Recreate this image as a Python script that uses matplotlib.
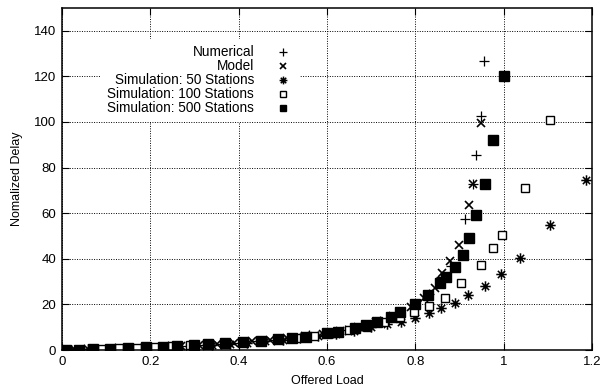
import matplotlib.pyplot as plt
from matplotlib.path import Path

plt.rcParams['font.family'] = ['Liberation Sans', 'DejaVu Sans']

# Numerical (+)
num_x = [0.02, 0.05, 0.08, 0.12, 0.16, 0.20, 0.24, 0.28, 0.32, 0.36, 0.40, 0.44,
         0.48, 0.52, 0.56, 0.60, 0.64, 0.68, 0.72, 0.76, 0.80, 0.83, 0.859, 0.88,
         0.913, 0.93, 0.938, 0.949, 0.956]
num_y = [0.1, 0.3, 0.4, 0.7, 1.0, 1.3, 1.6, 1.9, 2.4, 2.8, 3.3, 3.9,
         4.6, 5.4, 6.4, 7.5, 8.9, 10.6, 12.9, 15.8, 20.0, 24.4, 32.0, 37.0,
         57.5, 73.0, 85.5, 102.6, 126.7]

# Model (x)
mod_x = [0.03, 0.07, 0.11, 0.15, 0.19, 0.23, 0.27, 0.31, 0.35, 0.39, 0.43, 0.47,
         0.51, 0.55, 0.59, 0.63, 0.67, 0.71, 0.75, 0.79, 0.82, 0.845, 0.861,
         0.879, 0.899, 0.922, 0.931, 0.949]
mod_y = [0.2, 0.4, 0.6, 0.9, 1.2, 1.5, 1.8, 2.2, 2.7, 3.2, 3.8, 4.4,
         5.2, 6.1, 7.2, 8.5, 10.2, 12.2, 15.0, 18.8, 22.8, 27.0, 33.8,
         39.0, 46.0, 63.6, 72.8, 99.5]

# Simulation: 50 Stations (asterisk)
s50_x = [0.02, 0.06, 0.10, 0.14, 0.18, 0.22, 0.26, 0.30, 0.34, 0.38, 0.42, 0.46,
         0.50, 0.54, 0.58, 0.62, 0.66, 0.70, 0.735, 0.768, 0.798, 0.830, 0.858,
         0.890, 0.920, 0.958, 0.994, 1.037, 1.105, 1.186]
s50_y = [0.1, 0.3, 0.5, 0.7, 1.0, 1.3, 1.6, 2.0, 2.4, 2.8, 3.3, 3.8,
         4.5, 5.2, 6.0, 7.0, 8.2, 10.0, 11.3, 12.3, 14.0, 16.2, 18.4,
         20.6, 24.0, 28.0, 33.3, 40.4, 54.8, 74.5]

# Simulation: 100 Stations (open square)
s100_x = [0.01, 0.04, 0.09, 0.13, 0.17, 0.21, 0.25, 0.29, 0.33, 0.37, 0.41, 0.45,
          0.49, 0.53, 0.57, 0.61, 0.65, 0.69, 0.73, 0.765, 0.796, 0.830, 0.866,
          0.904, 0.949, 0.975, 0.997, 1.049, 1.105]
s100_y = [0.1, 0.2, 0.5, 0.8, 1.1, 1.4, 1.7, 2.1, 2.5, 3.0, 3.5, 4.0,
          4.7, 5.4, 6.3, 7.3, 8.6, 10.2, 12.2, 14.5, 16.7, 19.3, 23.0,
          29.4, 37.3, 44.7, 50.4, 71.0, 101.0]

# Simulation: 500 Stations (filled square)
s500_x = [0.01, 0.04, 0.07, 0.11, 0.15, 0.19, 0.23, 0.26, 0.30, 0.33, 0.37, 0.41,
          0.45, 0.49, 0.52, 0.553, 0.60, 0.624, 0.664, 0.689, 0.714, 0.745, 0.766,
          0.798, 0.829, 0.856, 0.870, 0.890, 0.908, 0.922, 0.938, 0.958, 0.976, 1.0]
s500_y = [0.1, 0.2, 0.4, 0.6, 0.9, 1.2, 1.5, 1.8, 2.2, 2.6, 3.0, 3.5,
          4.1, 4.7, 5.2, 5.7, 7.5, 7.9, 9.6, 11.0, 12.3, 14.5, 16.7,
          20.0, 24.0, 29.4, 32.0, 36.4, 41.7, 49.0, 59.0, 72.8, 92.0, 120.0]

# gnuplot style star: + and x drawn together
star = Path([(-1, 0), (1, 0), (0, -1), (0, 1),
             (-0.7, -0.7), (0.7, 0.7), (-0.7, 0.7), (0.7, -0.7)],
            [Path.MOVETO, Path.LINETO] * 4)

fig, ax = plt.subplots(figsize=(6, 3.92), dpi=100)
fig.subplots_adjust(left=0.103, right=0.987, bottom=0.107, top=0.98)

ax.plot(num_x, num_y, linestyle='none', marker='+', color='black', markersize=7,
        markeredgewidth=0.9, label='Numerical')
ax.plot(mod_x, mod_y, linestyle='none', marker='x', color='black', markersize=5.5,
        markeredgewidth=1.2, label='Model')
ax.plot(s50_x, s50_y, linestyle='none', marker=star, markerfacecolor='none',
        markeredgecolor='black', markersize=7.5, markeredgewidth=1.1,
        label='Simulation: 50 Stations')
ax.plot(s100_x, s100_y, linestyle='none', marker='s', markerfacecolor='white',
        markeredgecolor='black', markersize=6, markeredgewidth=1.0,
        label='Simulation: 100 Stations')
ax.plot(s500_x, s500_y, linestyle='none', marker='s', color='black', markersize=6.5,
        label='Simulation: 500 Stations')

ax.set_xlim(0, 1.2)
ax.set_ylim(0, 150)
ax.set_xticks([0, 0.2, 0.4, 0.6, 0.8, 1.0, 1.2])
ax.set_xticklabels(['0', '0.2', '0.4', '0.6', '0.8', '1', '1.2'])
ax.set_yticks(range(0, 141, 20))
ax.tick_params(direction='in', top=True, right=True, length=5, labelsize=9.5, pad=4)
ax.grid(True, linestyle=(0, (1, 1.5)), color='black', linewidth=0.7)
ax.set_axisbelow(True)
for s in ax.spines.values():
    s.set_linewidth(1.1)

ax.set_xlabel('Offered Load', fontsize=9, labelpad=5)
ax.set_ylabel('Nomalized Delay', fontsize=9, labelpad=8)

leg = ax.legend(loc='upper right', bbox_to_anchor=(0.45, 0.91), markerfirst=False,
                frameon=True, fontsize=9.8, handlelength=1.6, handletextpad=1.3,
                labelspacing=0.0, borderpad=0.5, borderaxespad=0.0, fancybox=False,
                markerscale=0.75)
leg.get_frame().set_facecolor('white')
leg.get_frame().set_edgecolor('none')
leg.get_frame().set_alpha(1.0)

fig.savefig('out.png', dpi=100)
plt.close(fig)
